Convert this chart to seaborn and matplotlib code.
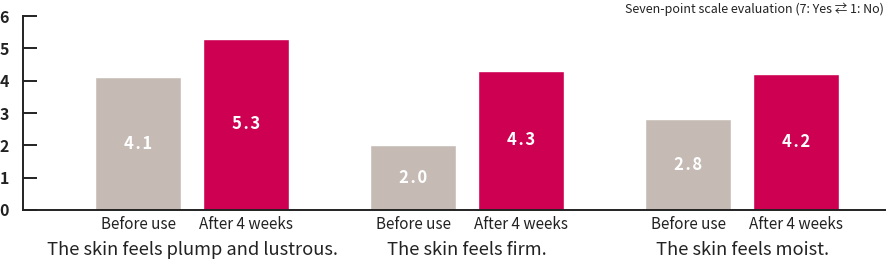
import matplotlib
matplotlib.use("Agg")
import matplotlib.pyplot as plt
import seaborn as sns
import pandas as pd

groups = ["The skin feels plump and lustrous.", "The skin feels firm.", "The skin feels moist."]
conditions = ["Before use", "After 4 weeks"]
before_vals = [4.1, 2.0, 2.8]
after_vals = [5.3, 4.3, 4.2]
y_ticks = [0, 1, 2, 3, 4, 5, 6]
note = "Seven-point scale evaluation (7: Yes \u21c4 1: No)"

colors = {"Before use": "#C5BBB4", "After 4 weeks": "#CD0052"}

sns.set_theme(style="white")
plt.rcParams["font.family"] = ["Noto Sans CJK KR", "DejaVu Sans"]

rows = []
for g, b, a in zip(groups, before_vals, after_vals):
    rows.append({"group": g, "condition": conditions[0], "value": b})
    rows.append({"group": g, "condition": conditions[1], "value": a})
df = pd.DataFrame(rows)

fig = plt.figure(figsize=(8.87, 2.62), dpi=100)
ax = fig.add_axes([23 / 887, 52 / 262, 1 - 23 / 887, 194 / 262])

sns.barplot(data=df, x="group", y="value", hue="condition", order=groups,
            hue_order=conditions, palette=colors, width=0.785, gap=0.204,
            legend=False, ax=ax, errorbar=None, saturation=1)

def spaced(v):
    return "\u200a".join(f"{v:.1f}")

for cont in ax.containers:
    ax.bar_label(cont, labels=[spaced(v) for v in cont.datavalues],
                 label_type="center", color="white", fontweight="bold",
                 fontsize=12)

ax.set_xlim(-0.615, 2.527)
ax.set_ylim(0, 6)
ax.set_yticks(y_ticks)
ax.set_yticklabels([str(t) for t in y_ticks], fontweight="bold", fontsize=11.5,
                   color="#222222")
ax.tick_params(axis="y", direction="in", length=10, width=1.4, color="#222222",
               pad=10, left=True)

# group labels (major) and condition labels (minor)
ax.set_xticks(range(len(groups)))
ax.set_xticklabels(groups, fontsize=13.2, color="#222222")
centers = []
labels = []
for cond_idx, cont in enumerate(ax.containers):
    for p in cont.patches:
        centers.append(p.get_x() + p.get_width() / 2)
        labels.append(conditions[cond_idx])
ax.set_xticks(centers, minor=True)
ax.set_xticklabels(labels, minor=True, fontsize=11, color="#222222")
ax.tick_params(axis="x", which="major", length=0, pad=22)
ax.tick_params(axis="x", which="minor", length=0, pad=4, bottom=True)
ax.set_xlabel("")
ax.set_ylabel("")

for s in ["top", "right"]:
    ax.spines[s].set_visible(False)
for s in ["left", "bottom"]:
    ax.spines[s].set_color("#222222")
    ax.spines[s].set_linewidth(1.4)

fig.text(884 / 887, 1 - 9 / 262, note, ha="right", va="center", fontsize=9,
         color="#222222")

fig.savefig("out.png", dpi=100)
